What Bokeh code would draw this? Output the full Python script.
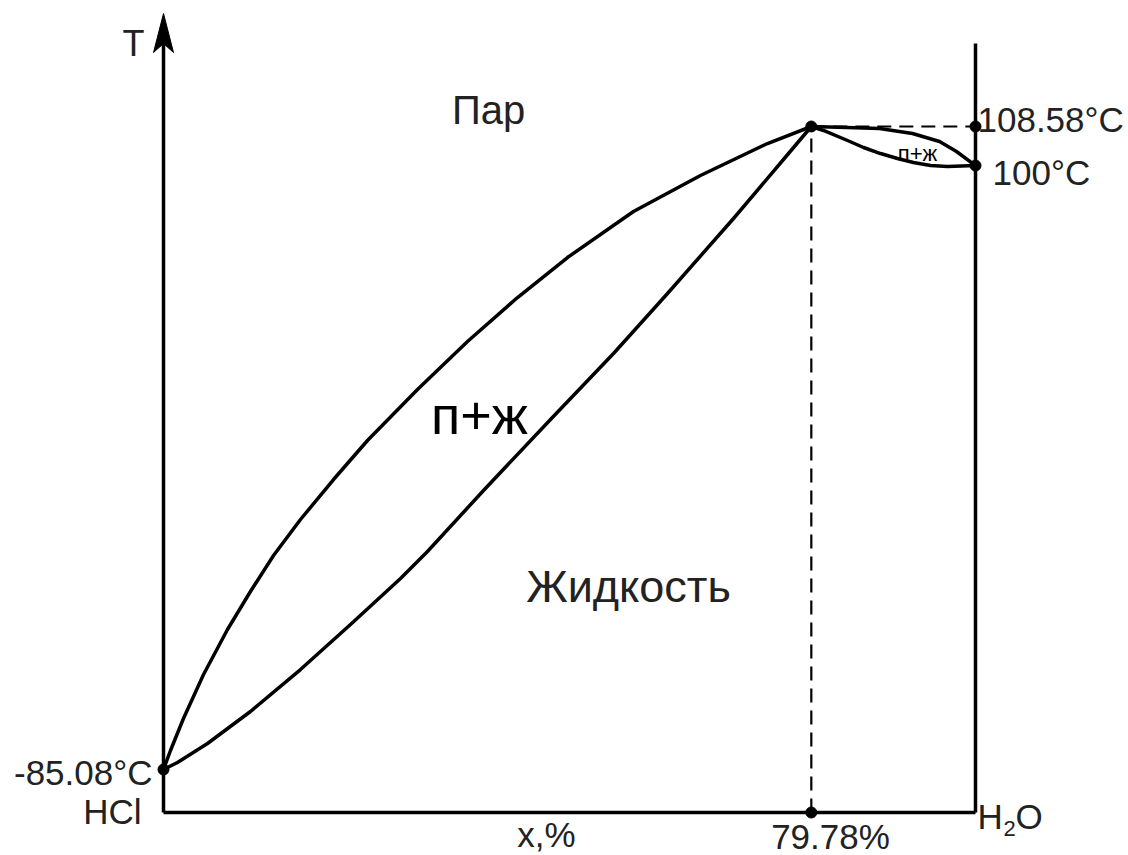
from bokeh.plotting import figure
from bokeh.models import Range1d
from bokeh.core.properties import value
from bokeh.embed import file_html
from bokeh.resources import INLINE

# Composition x (% H2O) and schematic temperature height (0..100 scale, 100 = azeotrope)
vapor_x = [0, 0.86, 2.46, 4.93, 7.88, 10.71, 13.55, 16.87, 20.94, 25.12, 31.28, 37.44,
           43.60, 49.75, 57.88, 66.13, 74.38, 79.78]
vapor_h = [6.27, 9.04, 13.70, 20.12, 26.68, 32.22, 37.46, 42.71, 48.54, 54.23, 61.66, 68.66,
           75.07, 80.90, 87.61, 92.86, 97.52, 100.0]
liquid_x = [0, 1.72, 5.42, 10.71, 16.87, 23.03, 29.19, 32.51, 39.41, 47.66, 55.42, 62.07,
            70.20, 76.35, 79.78]
liquid_h = [6.27, 7.29, 10.06, 14.72, 20.84, 27.41, 34.11, 38.05, 46.94, 57.29, 66.91, 75.66,
            86.59, 95.19, 100.0]
vapor2_x = [79.78, 84.11, 88.18, 92.24, 95.57, 97.66, 100.0]
vapor2_h = [100.0, 99.85, 99.71, 98.98, 97.81, 96.36, 94.31]
liquid2_x = [79.78, 81.28, 84.24, 86.21, 88.30, 90.39, 92.36, 94.46, 96.55, 100.0]
liquid2_h = [100.0, 99.42, 97.96, 96.94, 96.06, 95.34, 94.75, 94.31, 94.17, 94.31]

azeo_x = 79.78
azeo_h = 100.0
water_h = 94.31
hcl_h = 6.27
x_max = 100.0
left_axis_top = 116.47
right_axis_top = 112.10

azeo_label = "79.78%"
t_azeo_label = "108.58°C"
t_water_label = "100°C"
t_hcl_label = "-85.08°C"

SX = 8.12   # px per % unit
SY = 6.86   # px per height unit
OX, OY = 163, 812   # pixel position of the origin

W, H = 1128, 855
x0 = (0 - OX) / SX
x1 = (W - OX) / SX
y1 = (OY - 0) / SY
y0 = (OY - H) / SY

p = figure(width=W, height=H, output_backend="svg", toolbar_location=None,
           x_range=Range1d(x0, x1), y_range=Range1d(y0, y1), min_border=0)
p.axis.visible = False
p.grid.visible = False
p.outline_line_color = None
p.background_fill_color = "white"
p.border_fill_color = "white"

LW = 3.5
# axes
p.line([0, 0], [0, left_axis_top - 30 / SY], line_color="black", line_width=LW)
p.line([0, x_max], [0, 0], line_color="black", line_width=LW, line_join="miter")
p.line([x_max, x_max], [0, right_axis_top], line_color="black", line_width=LW)
# arrow head
p.patch([0, -10 / SX, 0, 10 / SX],
        [left_axis_top, left_axis_top - 39 / SY, left_axis_top - 30 / SY, left_axis_top - 39 / SY],
        fill_color="black", line_color="black", line_width=1)

# dashed guides
p.line([azeo_x, azeo_x], [0, azeo_h], line_color="black", line_width=2.2, line_dash="14 8")
p.line([azeo_x, x_max], [azeo_h, azeo_h], line_color="black", line_width=2.2, line_dash="14 8")

# curves
for xs, hs in [(vapor_x, vapor_h), (liquid_x, liquid_h), (vapor2_x, vapor2_h), (liquid2_x, liquid2_h)]:
    p.line(xs, hs, line_color="black", line_width=LW, line_join="round", line_cap="round")

# points
p.scatter([0, azeo_x, x_max, x_max, azeo_x], [hcl_h, azeo_h, azeo_h, water_h, 0],
          size=11, fill_color="black", line_color="black")

GRAY = "#222222"
FONT = value("Liberation Sans")


def px(ix):
    return (ix - OX) / SX


def py(iy):
    return (OY - iy) / SY


def txt(ix, iy, s, size, align="left", color=GRAY, font=FONT):
    # iy is the desired baseline in pixels; compensate the renderer's baseline offset
    iy = iy - 0.32 * size
    p.text([px(ix)], [py(iy)], text=[s], text_font=font, text_font_size=f"{size}px",
           text_align=align, text_baseline="alphabetic", text_color=color)


txt(133, 55, "T", 36, "center")
txt(488, 122, "Пар", 40, "center")
txt(628, 600, "Жидкость", 45, "center")
txt(479, 432, "п+ж", 54, "center", color="black")
txt(917, 160, "п+ж", 22, "center", color="black")
txt(152, 783, t_hcl_label, 35, "right")
txt(141, 822, "HCl", 35, "right")
txt(977, 130, t_azeo_label, 35, "left")
txt(992, 183, t_water_label, 35, "left")
txt(830, 847, azeo_label, 35, "center")
txt(546, 845, "x,%", 35, "center")
txt(977, 827, "H", 35, "left")
txt(1003, 835, "2", 22, "left")
txt(1015, 827, "O", 35, "left")

open("out.html", "w").write(file_html(p, INLINE))
